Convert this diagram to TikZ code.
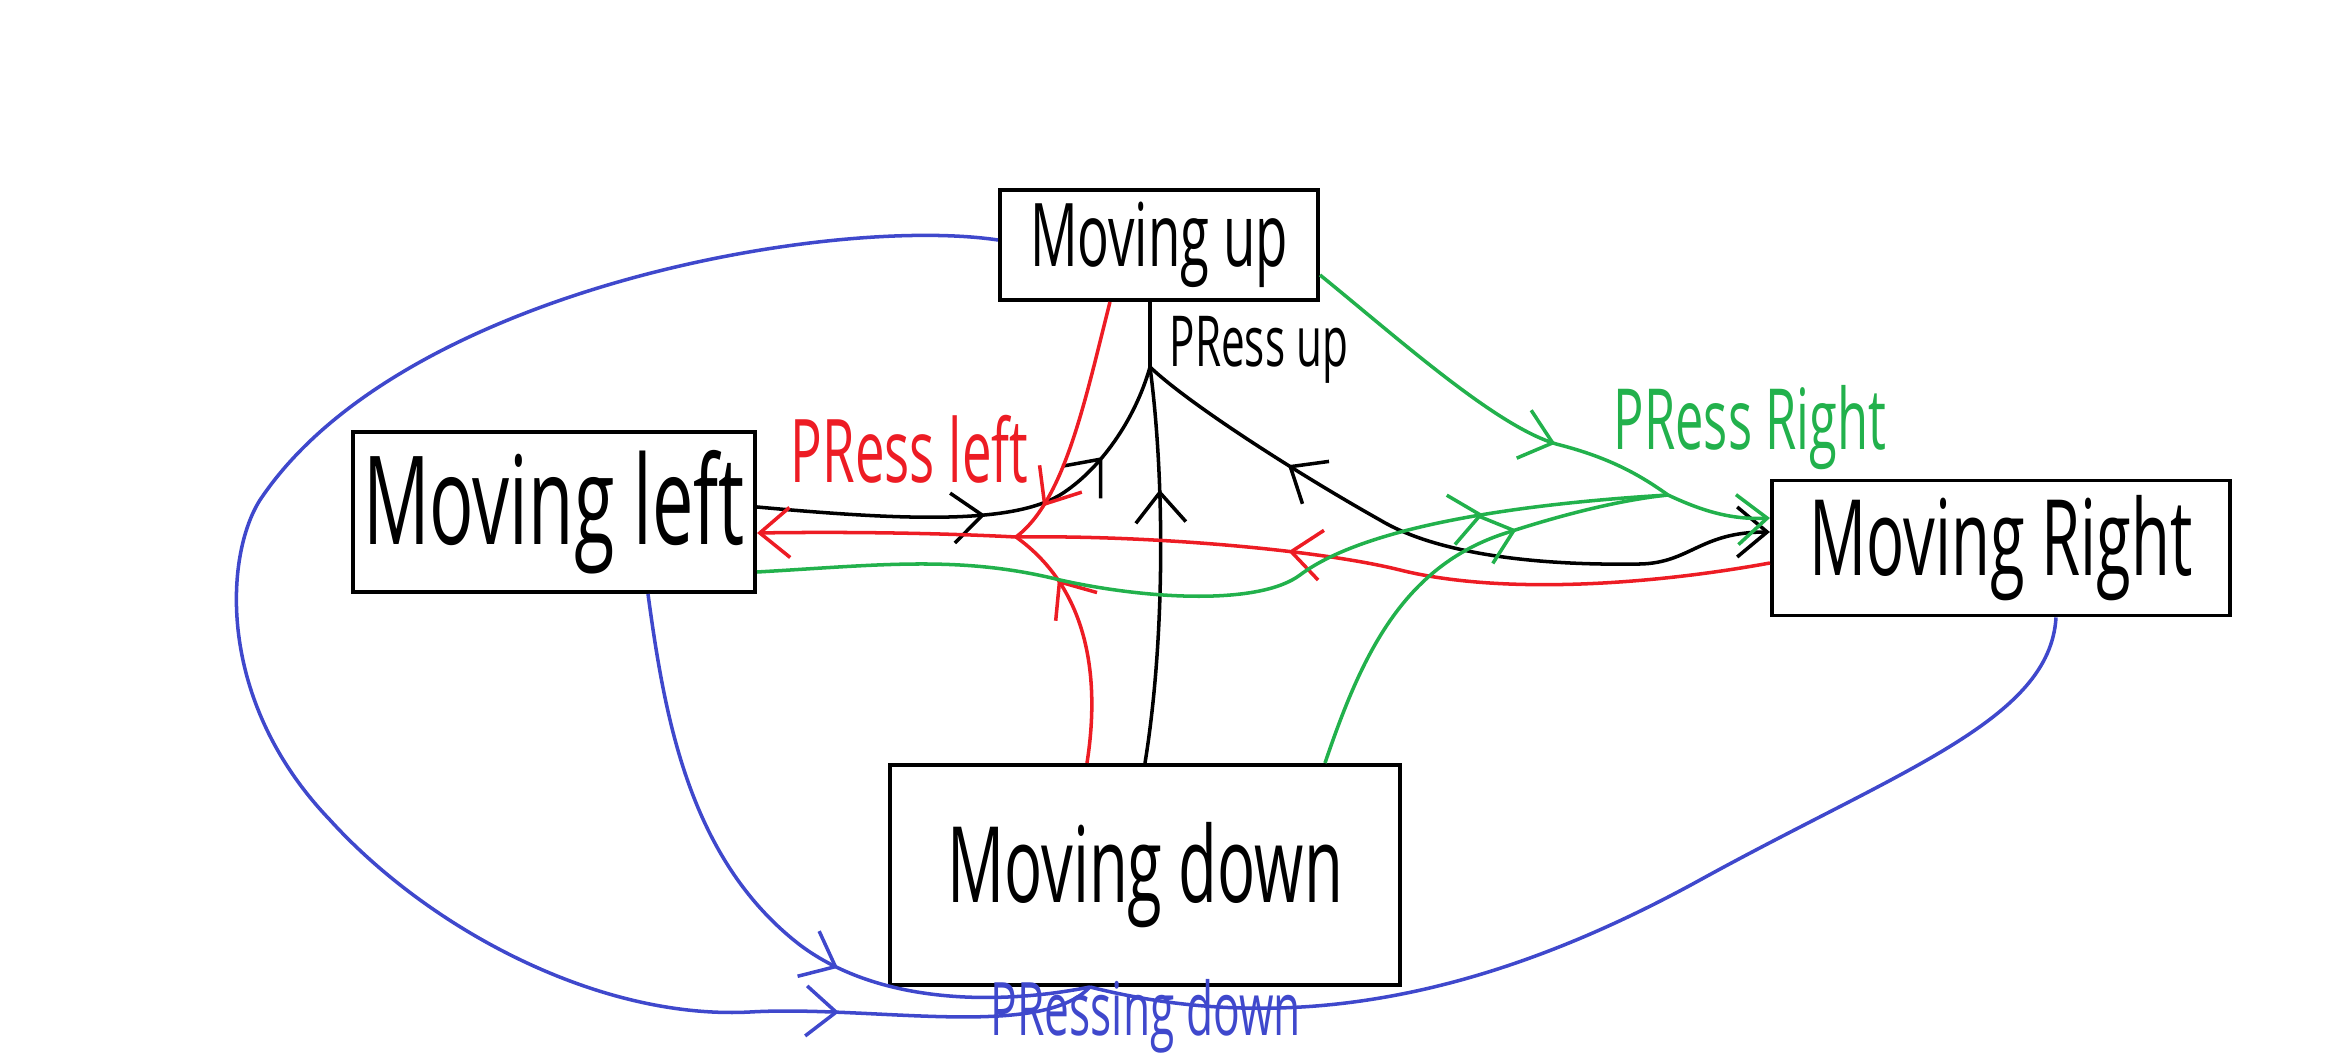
\documentclass[tikz,border=0pt]{standalone}
\usepackage{fontspec}
\newfontfamily\mao[FakeStretch=0.6]{Open Sans}
\usetikzlibrary{arrows.meta,positioning,calc,decorations.markings}
\definecolor{vermelho}{RGB}{237,28,36}
\definecolor{verde}{RGB}{34,177,76}
\definecolor{azul}{RGB}{63,72,204}

\begin{document}
\begin{tikzpicture}[x=0.01cm, y=-0.01cm, > = {Straight Barb[length=3mm,width=5mm]}, line width=1pt]
                       \tikzstyle{estado}=[draw, line width=1.1pt, inner sep=0pt]
                       \tikzstyle{rotulo}=[anchor=base west, inner sep=0pt]
                       \tikzset{meio/.style={postaction={decorate, decoration={markings, mark=at position #1 with {\arrow{>}}}}}}
                       \useasboundingbox (0,0) rectangle (2350,1055);

                        % Estados
                        \node[estado, minimum width=3.18cm, minimum height=1.1cm, font=\mao\fontsize{25}{30}\selectfont] (cima) at (1159,245) {Moving up};
                        \node[estado, minimum width=4.02cm, minimum height=1.6cm, font=\mao\fontsize{35}{40}\selectfont] (esquerda) at (554,512) {Moving left};
                        \node[estado, minimum width=4.58cm, minimum height=1.35cm, font=\mao\fontsize{30}{35}\selectfont] (direita) at (2001,548) {Moving Right};
                        \node[estado, minimum width=5.1cm, minimum height=2.2cm, font=\mao\fontsize{30}{35}\selectfont] (baixo) at (1145,875) {Moving down};

                        % Rótulos
                        \node[rotulo, font=\mao\fontsize{20}{24}\selectfont] (lcima) at (1168,367) {PRess up};
                        \node[rotulo, text=vermelho, font=\mao\fontsize{25}{30}\selectfont] (lesquerda) at (789,483) {PRess left};
                        \node[rotulo, text=verde, font=\mao\fontsize{24}{28}\selectfont] (ldireita) at (1612,450) {PRess Right};
                        \node[rotulo, text=azul, font=\mao\fontsize{21}{25}\selectfont] (lbaixo) at (989,1035) {PRessing down};

                        % Junções
                        \coordinate (jcima) at (1150,367);
                        \coordinate (jesq) at (1016,537);
                        \coordinate (jdir) at (1668,495);
                        \coordinate (jbaixo) at ($(baixo.south)+(-55,0)$);

                        % Press up
                        \draw (jcima) -- (cima.south -| jcima);
                        \draw[meio=0.49, meio=0.78] ($(esquerda.east)+(0,-5)$) .. controls (900,520) and (1010,525) .. (1060,495) .. controls (1100,470) and (1135,420) .. (jcima);
                        \draw[meio=0.69] (baixo.north) .. controls (1165,640) and (1165,480) .. (jcima);
                        \draw[<-, meio=0.75] ($(direita.west)+(0,-16)$) .. controls (1700,532) and (1690,563) .. (1640,564) .. controls (1520,566) and (1430,550) .. (1380,520) .. controls (1300,475) and (1190,405) .. (jcima);

                        % Press left
                        \draw[vermelho, ->] (jesq) .. controls (920,532) and (820,532) .. ($(esquerda.east)+(0,21)$);
                        \draw[vermelho, meio=0.84] ($(cima.south)+(-49,0)$) .. controls (1085,400) and (1065,500) .. (jesq);
                        \draw[vermelho, meio=0.76] ($(baixo.north)+(-58,0)$) .. controls (1100,680) and (1090,590) .. (jesq);
                        \draw[vermelho, meio=0.64] ($(direita.west)+(0,15)$) .. controls (1650,585) and (1500,595) .. (1400,570) .. controls (1320,550) and (1150,535) .. (jesq);

                        % Press right
                        \draw[verde, ->] (jdir) .. controls (1700,510) and (1730,520) .. ($(direita.west)+(0,-30)$);
                        \draw[verde, meio=0.8] ($(esquerda.east)+(0,60)$) .. controls (880,565) and (960,555) .. (1060,580) .. controls (1150,600) and (1260,605) .. (1300,575) .. controls (1360,530) and (1500,505) .. (jdir);
                        \draw[verde, meio=0.67] ($(baixo.north)+(180,0)$) .. controls (1360,660) and (1400,570) .. (1500,535) .. controls (1560,515) and (1620,500) .. (jdir);
                        \draw[verde, meio=0.7] ($(cima.east)+(0,30)$) .. controls (1400,340) and (1500,430) .. (1560,445) .. controls (1610,458) and (1640,475) .. (jdir);

                        % Pressing down
                        \draw[azul, meio=0.87] ($(cima.west)+(0,-5)$) .. controls (830,215) and (400,290) .. (260,500) .. controls (225,555) and (215,700) .. (330,820) .. controls (430,930) and (600,1020) .. (750,1012) .. controls (870,1005) and (1040,1040) .. (jbaixo);
                        \draw[azul, meio=0.63] ($(esquerda.south)+(94,0)$) .. controls (665,720) and (690,860) .. (800,945) .. controls (880,1005) and (1000,1005) .. (jbaixo);
                        \draw[azul] ($(direita.south)+(55,0)$) .. controls (2050,720) and (1900,770) .. (1700,880) .. controls (1500,990) and (1300,1040) .. (jbaixo);
                  \end{tikzpicture}
\end{document}
